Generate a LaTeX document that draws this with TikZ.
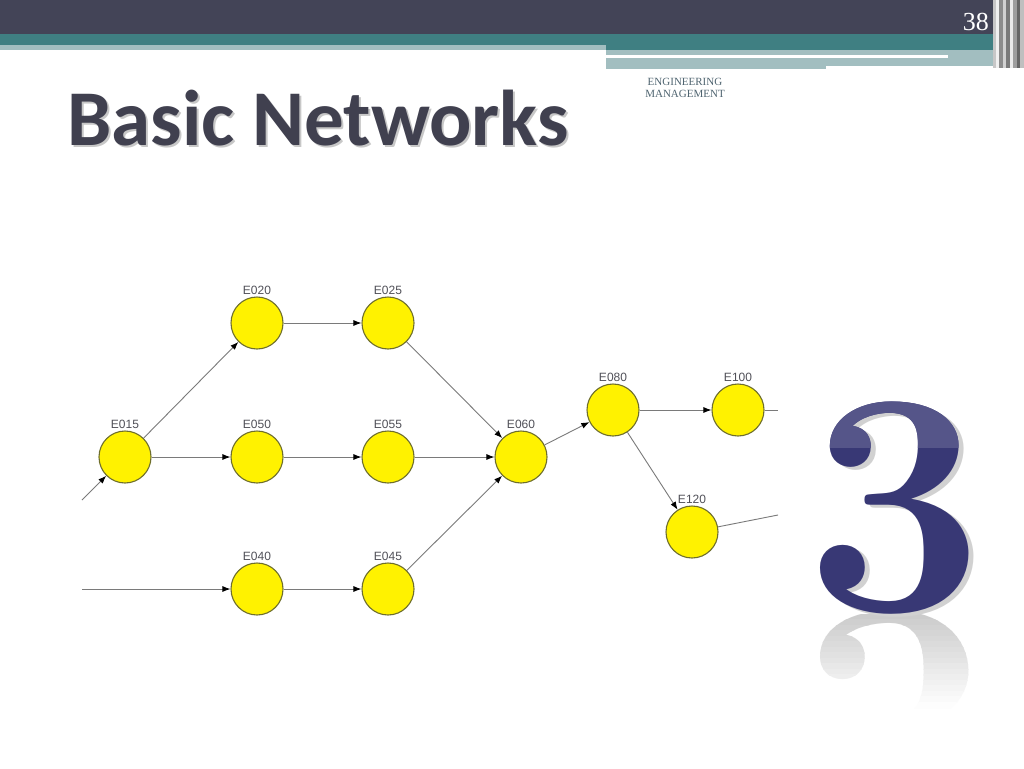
\documentclass[tikz,border=0pt]{standalone}
\usepackage{fontspec}
\newfontfamily\titlefont{Carlito}
\newfontfamily\labfont{Liberation Sans}
\newfontfamily\serifb{Liberation Serif}
\usetikzlibrary{arrows.meta}
\definecolor{darkbar}{HTML}{434457}
\definecolor{tealbar}{HTML}{3F7F82}
\definecolor{lightbar}{HTML}{A2BEC0}
\definecolor{titlecol}{HTML}{40404F}
\definecolor{nodefill}{HTML}{FFF200}
\definecolor{nodeedge}{HTML}{6E6E2C}
\definecolor{edgecol}{HTML}{7A7A7A}
\definecolor{labcol}{HTML}{505058}
\definecolor{engcol}{HTML}{4F6470}
\definecolor{navy}{HTML}{383875}
\definecolor{navylight}{HTML}{555589}
\tikzset{
  evt/.style={circle, draw=nodeedge, fill=nodefill, line width=1.1pt, minimum size=52pt, inner sep=0pt},
  lab/.style={font=\labfont\fontsize{12}{12}\selectfont, text=labcol, inner sep=0pt, anchor=south, yshift=2pt},
  arr/.style={draw=edgecol, line width=0.9pt, -{Latex[length=8pt,width=6pt,color=black]}},
  ln/.style={draw=edgecol, line width=0.9pt},
  three/.style={font=\fontsize{318}{318}\selectfont\bfseries, inner sep=0pt, anchor=base}
}
\begin{document}
\begin{tikzpicture}[x=1pt,y=-1pt]
\useasboundingbox (0,0) rectangle (1024,768);
\fill[white] (0,0) rectangle (1024,768);
% top bars
\fill[darkbar] (0,0) rectangle (995,34);
\fill[tealbar] (0,34) rectangle (995,45);
\fill[lightbar] (0,45) rectangle (606,50);
\fill[tealbar] (606,45) rectangle (995,50);
\fill[lightbar] (606,50) rectangle (1005,66);
\fill[lightbar] (606,66) rectangle (826,69);
\fill[white] (606,55) rectangle (948,58);
% right stripes
\fill[black!22] (993,0) rectangle (996,68);
\fill[black!6] (996,0) rectangle (999,68);
\fill[black!45] (999,0) rectangle (1003,68);
\fill[black!18] (1003,0) rectangle (1006,68);
\fill[black!52] (1006,0) rectangle (1010,68);
\fill[black!8] (1010,0) rectangle (1013,68);
\fill[black!38] (1013,0) rectangle (1017,68);
\fill[black!60] (1017,0) rectangle (1020,68);
\fill[black!25] (1020,0) rectangle (1024,68);
% page number
\node[text=white, font=\serifb\fontsize{26}{26}\selectfont, anchor=base east, inner sep=0pt] (pnum) at (989,31) {38};
% header text
\node[text=engcol, font=\serifb\fontsize{11}{12.5}\selectfont, align=center, inner sep=0pt] (eng) at (685,88) {ENGINEERING\\MANAGEMENT};
% title
\node[text=black!22, font=\titlefont\bfseries\fontsize{79}{79}\selectfont, anchor=base west, inner sep=0pt] (titleshadow) at (69,147) {Basic Networks};
\node[text=titlecol, font=\titlefont\bfseries\fontsize{79}{79}\selectfont, anchor=base west, inner sep=0pt] (title) at (67,145) {Basic Networks};
% network nodes
\node[evt] (e015) at (125,457) {};
\node[evt] (e020) at (257,323) {};
\node[evt] (e025) at (388,323) {};
\node[evt] (e050) at (257,457) {};
\node[evt] (e055) at (388,457) {};
\node[evt] (e060) at (521,457) {};
\node[evt] (e040) at (257,589) {};
\node[evt] (e045) at (388,589) {};
\node[evt] (e080) at (613,410) {};
\node[evt] (e100) at (738,410) {};
\node[evt] (e120) at (692,532) {};
\node[lab] (l015) at (e015.north) {E015};
\node[lab] (l020) at (e020.north) {E020};
\node[lab] (l025) at (e025.north) {E025};
\node[lab] (l050) at (e050.north) {E050};
\node[lab] (l055) at (e055.north) {E055};
\node[lab] (l060) at (e060.north) {E060};
\node[lab] (l040) at (e040.north) {E040};
\node[lab] (l045) at (e045.north) {E045};
\node[lab] (l080) at (e080.north) {E080};
\node[lab] (l100) at (e100.north) {E100};
\node[lab] (l120) at (e120.north) {E120};
\coordinate (in1) at (82,500);
\coordinate (in2) at (82,589);
\coordinate (out1) at (778,410);
\coordinate (out2) at (778,515);
% edges
\draw[arr] (in1) -- (e015);
\draw[arr] (in2) -- (e040);
\draw[arr] (e015) -- (e020);
\draw[arr] (e015) -- (e050);
\draw[arr] (e020) -- (e025);
\draw[arr] (e050) -- (e055);
\draw[arr] (e040) -- (e045);
\draw[arr] (e025) -- (e060);
\draw[arr] (e055) -- (e060);
\draw[arr] (e045) -- (e060);
\draw[arr] (e060) -- (e080);
\draw[arr] (e080) -- (e100);
\draw[arr] (e080) -- (e120);
\draw[ln] (e100) -- (out1);
\draw[ln] (e120) -- (out2);
% big 3: reflection, fading downwards
\foreach \i in {0,...,16} {
  \pgfmathsetmacro\yy{614+\i*5.5}
  \pgfmathsetmacro\pct{20-\i*1.2}
  \begin{scope}
    \clip (790,\yy) rectangle (1000,\yy+6);
    \node[three, yscale=-1, text=black!\pct] (refl\i) at (895,614) {3};
  \end{scope}
}
% shadow
\node[three, text=black!18] (threeshadow) at (900,613) {3};
% main 3
\node[three, text=navy] (three) at (895,610) {3};
\begin{scope}
  \clip (790,395) rectangle (1000,447);
  \node[three, text=navylight] (threegloss) at (895,610) {3};
\end{scope}
\end{tikzpicture}
\end{document}
